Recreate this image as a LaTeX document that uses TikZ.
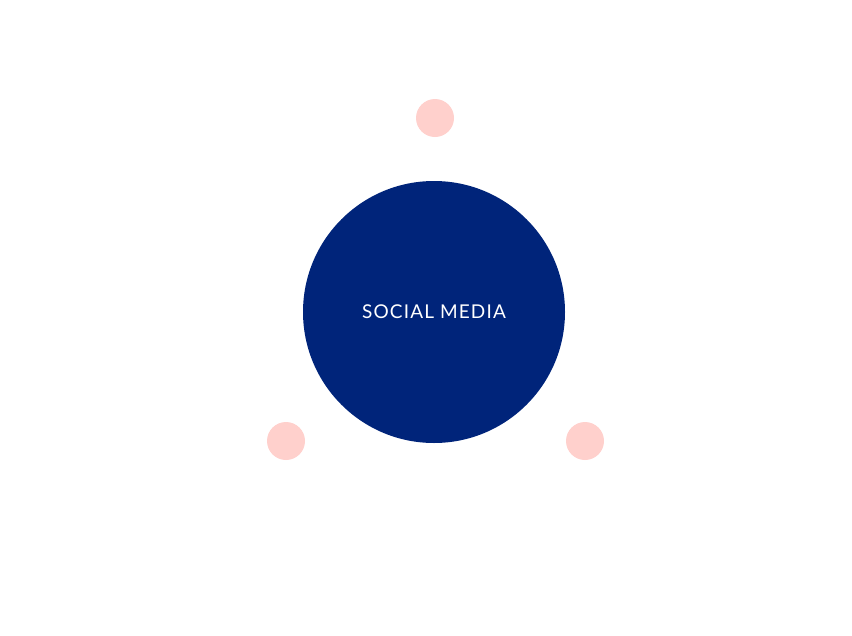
\documentclass[tikz,border=0pt]{standalone}
\usepackage{fontspec}
\setmainfont{Lato}
\definecolor{navy}{HTML}{00247A}
\definecolor{pinkdot}{HTML}{FFD0CC}
\begin{document}
\begin{tikzpicture}[x=1pt,y=-1pt,
  dot/.style={circle,fill=pinkdot,minimum size=38pt,inner sep=0pt},
  hub/.style={circle,fill=navy,minimum size=262pt,inner sep=0pt,text=white,font=\fontsize{19}{22}\selectfont\addfontfeature{LetterSpace=6}}]
\useasboundingbox (0,0) rectangle (852,635);
\node[hub] (c) at (434,312) {SOCIAL MEDIA};
\node[dot] (t) at (435,118) {};
\node[dot] (l) at (286,441) {};
\node[dot] (r) at (585,441) {};
\end{tikzpicture}
\end{document}
